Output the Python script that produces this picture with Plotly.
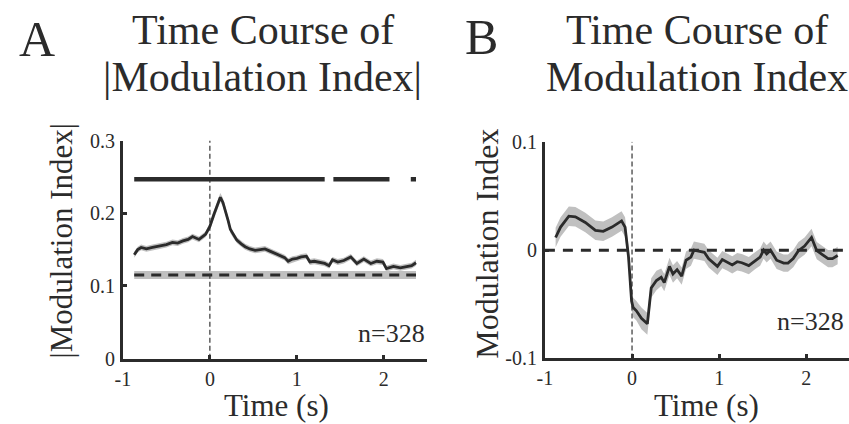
import plotly.graph_objects as go

W, H = 849, 424

# ---------------- data ----------------
timeA = [-0.87, -0.83, -0.79, -0.73, -0.66, -0.58, -0.50, -0.43, -0.37, -0.31,
         -0.25, -0.20, -0.125, -0.05, 0.00, 0.045, 0.09, 0.12, 0.15, 0.18,
         0.21, 0.235, 0.27, 0.31, 0.36, 0.405, 0.46, 0.52, 0.58, 0.633,
         0.69, 0.75, 0.81, 0.86, 0.90, 0.95, 1.00, 1.05, 1.11, 1.15,
         1.20, 1.26, 1.32, 1.37, 1.41, 1.47, 1.54, 1.62, 1.69, 1.77,
         1.85, 1.92, 1.99, 2.03, 2.08, 2.11, 2.19, 2.26, 2.32, 2.37]
absMI = [0.143, 0.150, 0.153, 0.151, 0.153, 0.155, 0.157, 0.160, 0.159, 0.162,
         0.164, 0.168, 0.164, 0.171, 0.182, 0.198, 0.212, 0.222, 0.215, 0.204,
         0.190, 0.178, 0.170, 0.163, 0.158, 0.154, 0.151, 0.149, 0.150, 0.151,
         0.148, 0.145, 0.142, 0.139, 0.134, 0.137, 0.138, 0.140, 0.141, 0.133,
         0.134, 0.132, 0.131, 0.128, 0.136, 0.133, 0.135, 0.140, 0.131, 0.137,
         0.131, 0.134, 0.133, 0.124, 0.126, 0.127, 0.125, 0.127, 0.128, 0.132]
semA = [0.004, 0.004, 0.004, 0.004, 0.004, 0.004, 0.004, 0.004, 0.004, 0.004,
        0.004, 0.004, 0.004, 0.004, 0.005, 0.005, 0.006, 0.006, 0.006, 0.005,
        0.005, 0.005, 0.004, 0.004, 0.004, 0.004, 0.004, 0.004, 0.004, 0.004,
        0.004, 0.004, 0.004, 0.004, 0.004, 0.004, 0.004, 0.004, 0.004, 0.004,
        0.004, 0.004, 0.004, 0.004, 0.004, 0.004, 0.004, 0.004, 0.004, 0.004,
        0.004, 0.004, 0.004, 0.004, 0.004, 0.004, 0.004, 0.004, 0.004, 0.004]
baselineA = 0.115
baselineA_sem = 0.0055
sigLevelA = 0.247
sigSegmentsA = [(-0.87, 1.32), (1.42, 2.065), (2.31, 2.37)]

timeB = [-0.877, -0.82, -0.725, -0.65, -0.536, -0.42, -0.33, -0.23, -0.12, -0.08,
         -0.04, -0.02, -0.005, 0.013, 0.05, 0.108, 0.15, 0.176, 0.22, 0.28,
         0.335, 0.37, 0.43, 0.47, 0.517, 0.57, 0.62, 0.676, 0.71, 0.77,
         0.83, 0.88, 0.98, 1.036, 1.09, 1.15, 1.207, 1.26, 1.34, 1.415,
         1.47, 1.51, 1.545, 1.59, 1.66, 1.74, 1.79, 1.85, 1.91, 1.98,
         2.06, 2.12, 2.17, 2.25, 2.30, 2.36]
MI = [0.0117, 0.0213, 0.0314, 0.0308, 0.0256, 0.0183, 0.0174, 0.0213, 0.027, 0.0213,
      -0.0064, -0.0354, -0.047, -0.053, -0.056, -0.063, -0.066, -0.068, -0.035, -0.028,
      -0.025, -0.030, -0.015, -0.022, -0.018, -0.024, -0.0093, -0.0064, 0.0, -0.001,
      -0.002, -0.008, -0.015, -0.0087, -0.0107, -0.0136, -0.0107, -0.0116, -0.0142, -0.0093,
      -0.0064, 0.0, -0.0035, 0.0, -0.0093, -0.012, -0.012, -0.0078, -0.0005, 0.0038,
      0.0117, -0.0005, -0.0035, -0.0078, -0.0078, -0.0049]
semB = [0.009, 0.009, 0.009, 0.009, 0.009, 0.009, 0.009, 0.009, 0.009, 0.009,
        0.009, 0.009, 0.009, 0.009, 0.009, 0.010, 0.010, 0.010, 0.009, 0.009,
        0.008, 0.008, 0.008, 0.008, 0.008, 0.008, 0.008, 0.008, 0.008, 0.008,
        0.008, 0.008, 0.008, 0.008, 0.008, 0.008, 0.008, 0.008, 0.008, 0.008,
        0.008, 0.008, 0.008, 0.008, 0.008, 0.008, 0.008, 0.008, 0.008, 0.008,
        0.008, 0.008, 0.008, 0.008, 0.008, 0.008]

xTicks = [-1, 0, 1, 2]
xTickText = ["-1", "0", "1", "2"]
yTicksA = [0, 0.1, 0.2, 0.3]
yTickTextA = ["0", "0.1", "0.2", "0.3"]
yTicksB = [-0.1, 0, 0.1]
yTickTextB = ["-0.1", "0", "0.1"]
nCells = "n=328"

# ---------------- style ----------------
FONT = "Liberation Serif"
INK = "#2b2b2b"
SHADE = "rgb(192,192,192)"

fig = go.Figure()

def band(x, m, s, xa, ya):
    up = [a + b for a, b in zip(m, s)]
    lo = [a - b for a, b in zip(m, s)]
    fig.add_trace(go.Scatter(x=list(x) + list(x)[::-1], y=up + lo[::-1], fill="toself",
                             fillcolor=SHADE, line=dict(width=0), mode="lines",
                             xaxis=xa, yaxis=ya, hoverinfo="skip", showlegend=False))

# ---- Panel A ----
fig.add_trace(go.Scatter(x=[timeA[0], timeA[-1], timeA[-1], timeA[0]],
                         y=[baselineA + baselineA_sem, baselineA + baselineA_sem,
                            baselineA - baselineA_sem, baselineA - baselineA_sem],
                         fill="toself", fillcolor=SHADE, line=dict(width=0), mode="lines",
                         xaxis="x", yaxis="y", showlegend=False, hoverinfo="skip"))
fig.add_trace(go.Scatter(x=[timeA[0], timeA[-1]], y=[baselineA, baselineA], mode="lines",
                         line=dict(color=INK, width=3, dash="10px,7px"),
                         xaxis="x", yaxis="y", showlegend=False))
band(timeA, absMI, semA, "x", "y")
fig.add_trace(go.Scatter(x=[0, 0], y=[0, 0.3], mode="lines",
                         line=dict(color="#333", width=1.2, dash="5px,3px"),
                         xaxis="x", yaxis="y", showlegend=False))
fig.add_trace(go.Scatter(x=timeA, y=absMI, mode="lines", line=dict(color=INK, width=2.8),
                         xaxis="x", yaxis="y", showlegend=False))
for a, b in sigSegmentsA:
    fig.add_trace(go.Scatter(x=[a, b], y=[sigLevelA, sigLevelA], mode="lines",
                             line=dict(color=INK, width=4.5),
                             xaxis="x", yaxis="y", showlegend=False))

# ---- Panel B ----
band(timeB, MI, semB, "x2", "y2")
fig.add_trace(go.Scatter(x=[0, 0], y=[-0.1, 0.1], mode="lines",
                         line=dict(color="#333", width=1.2, dash="5px,3px"),
                         xaxis="x2", yaxis="y2", showlegend=False))
fig.add_trace(go.Scatter(x=[-1, 2.5], y=[0, 0], mode="lines",
                         line=dict(color=INK, width=3, dash="10px,8px"),
                         xaxis="x2", yaxis="y2", showlegend=False))
fig.add_trace(go.Scatter(x=timeB, y=MI, mode="lines", line=dict(color=INK, width=2.8),
                         xaxis="x2", yaxis="y2", showlegend=False))

axis_common = dict(showline=True, linewidth=3, linecolor=INK, ticks="inside", ticklen=4,
                   tickwidth=3, tickcolor=INK, showgrid=False, zeroline=False,
                   tickfont=dict(family=FONT, size=20, color=INK))

yd = [1 - 366.7 / H, 1 - 136.7 / H]
yd2 = [1 - 366.5 / H, 1 - 138 / H]
fig.update_layout(
    width=W, height=H, margin=dict(l=0, r=0, t=0, b=0),
    paper_bgcolor="white", plot_bgcolor="white", showlegend=False,
    xaxis=dict(domain=[116 / W, 423.3 / W], range=[-1, 2.5], tickvals=xTicks,
               ticktext=xTickText, anchor="y", ticklabelstandoff=0, **axis_common),
    yaxis=dict(domain=yd, range=[0, 0.3], tickvals=yTicksA, ticktext=yTickTextA,
               anchor="x", ticklabelstandoff=1, **axis_common),
    xaxis2=dict(domain=[542 / W, 1.0], range=[-1, 2.49], tickvals=xTicks,
                ticktext=xTickText, anchor="y2", ticklabelstandoff=0, **axis_common),
    yaxis2=dict(domain=yd2, range=[-0.1, 0.1], tickvals=yTicksB, ticktext=yTickTextB,
                anchor="x2", ticklabelstandoff=1, **axis_common),
)

def ann(text, px, py, size, angle=0, xanchor="center"):
    fig.add_annotation(text=text, x=px / W, y=1 - py / H, xref="paper", yref="paper",
                       showarrow=False, xanchor=xanchor, yanchor="middle", textangle=angle,
                       font=dict(family=FONT, size=size, color=INK))

ann("A", 29.5, 29.5, 50)
ann("Time Course of", 257, 20, 42)
ann("|Modulation Index|", 257, 70, 42)
ann("B", 478, 27, 50)
ann("Time Course of", 696, 20, 42)
ann("Modulation Index", 696, 70, 42)
ann("Time (s)", 271, 416, 31)
ann("Time (s)", 705, 416, 31)
ann("|Modulation Index|", 54, 242.5, 31, angle=-90)
ann("Modulation Index", 484, 245, 32, angle=-90)
ann(nCells, 423, 340, 26, xanchor="right")
ann(nCells, 846, 328, 26, xanchor="right")

fig.write_html("out.html")
